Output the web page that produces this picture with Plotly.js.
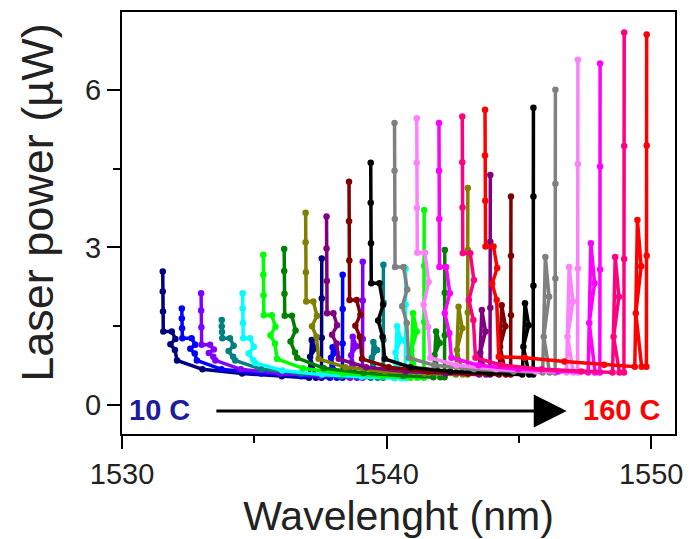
<!DOCTYPE html>
<html>
<head>
<meta charset="utf-8">
<script src="https://cdn.plot.ly/plotly-3.0.1.min.js"></script>
<style>html,body{margin:0;padding:0;background:#fff;}#chart{width:689px;height:539px;}</style>
</head>
<body>
<div id="chart"></div>
<script>
// Temperature labels for each measured spectrum (10 C ... 160 C)
const temps = ['10 C','20 C','30 C','40 C','50 C','60 C','70 C','80 C','90 C','100 C','110 C','120 C','130 C','140 C','150 C','160 C'];
const colors = ['#000080','#0000ff','#8000ff','#008080','#00ffff','#00ff00','#008000','#808000','#800080','#800000','#000000','#808080','#ff80ff','#ff00ff','#ff0080','#ff0000'];

// Wavelength (nm) and laser power (uW) for each temperature
const wl10 = [1531.54,1531.54,1531.55,1531.56,1531.88,1532.02,1531.83,1532.00,1532.08,1533.04,1534.54,1536.04,1537.07,1537.17,1537.31,1537.11,1537.33,1537.54,1537.55,1537.55,1537.55];
const pw10 = [2.54,2.16,1.78,1.40,1.40,1.26,1.16,1.05,0.85,0.68,0.60,0.55,0.52,1.24,1.08,0.92,0.52,0.52,1.28,2.03,2.79];
const wl20 = [1532.26,1532.26,1532.27,1532.28,1532.63,1532.77,1532.58,1532.75,1532.83,1533.76,1535.26,1536.76,1537.86,1537.96,1538.10,1537.90,1538.12,1538.33,1538.34,1538.34,1538.34];
const pw20 = [1.84,1.65,1.46,1.27,1.27,1.15,1.07,0.98,0.85,0.68,0.60,0.55,0.52,1.10,1.00,0.90,0.52,0.52,1.17,1.83,2.48];
const wl30 = [1532.99,1532.99,1533.00,1533.01,1533.33,1533.47,1533.28,1533.45,1533.53,1534.49,1535.99,1537.49,1538.62,1538.72,1538.86,1538.66,1538.88,1539.09,1539.10,1539.10,1539.10];
const pw30 = [2.13,1.80,1.48,1.15,1.15,1.06,0.99,0.92,0.85,0.68,0.60,0.55,0.52,1.30,1.12,0.95,0.52,0.52,1.26,1.99,2.73];
const wl40 = [1533.77,1533.77,1533.78,1533.79,1534.08,1534.22,1534.03,1534.20,1534.28,1535.27,1536.77,1538.27,1539.40,1539.50,1539.64,1539.44,1539.66,1539.87,1539.88,1539.88,1539.88];
const pw40 = [1.62,1.50,1.39,1.27,1.27,1.13,1.03,0.92,0.85,0.68,0.60,0.55,0.52,1.20,1.05,0.90,0.52,0.52,1.24,1.95,2.67];
const wl50 = [1534.56,1534.56,1534.57,1534.58,1534.84,1534.98,1534.79,1534.96,1535.04,1536.06,1537.56,1539.06,1540.30,1540.40,1540.54,1540.34,1540.56,1540.71,1540.72,1540.72,1540.72];
const pw50 = [2.13,1.84,1.56,1.27,1.27,1.11,0.98,0.86,0.80,0.66,0.58,0.54,0.51,1.50,1.25,1.00,0.51,0.51,1.21,1.91,2.60];
const wl60 = [1535.34,1535.34,1535.35,1535.36,1535.66,1535.80,1535.61,1535.78,1535.86,1536.84,1538.34,1539.84,1540.90,1541.00,1541.14,1540.94,1541.16,1541.41,1541.42,1541.42,1541.42];
const pw60 = [2.86,2.48,2.09,1.71,1.71,1.49,1.33,1.17,0.88,0.70,0.60,0.55,0.52,1.75,1.40,1.05,0.52,0.52,1.58,2.65,3.71];
const wl70 = [1536.13,1536.13,1536.14,1536.15,1536.42,1536.56,1536.37,1536.54,1536.62,1537.63,1539.13,1540.63,1541.77,1541.87,1542.01,1541.81,1542.03,1542.19,1542.20,1542.20,1542.20];
const pw70 = [2.97,2.55,2.12,1.70,1.70,1.42,1.21,1.00,0.90,0.70,0.61,0.56,0.53,1.40,1.18,0.95,0.53,0.53,1.33,2.14,2.95];
const wl80 = [1536.94,1536.94,1536.95,1536.96,1537.23,1537.37,1537.18,1537.35,1537.43,1538.44,1539.94,1541.44,1542.62,1542.72,1542.86,1542.66,1542.88,1543.06,1543.07,1543.07,1543.07];
const pw80 = [3.66,3.10,2.53,1.97,1.97,1.70,1.50,1.30,0.88,0.72,0.64,0.60,0.58,1.87,1.46,1.05,0.58,0.58,1.76,2.95,4.13];
const wl90 = [1537.73,1537.73,1537.74,1537.75,1537.99,1538.13,1537.94,1538.11,1538.19,1539.23,1540.73,1542.23,1543.50,1543.60,1543.74,1543.54,1543.76,1543.91,1543.92,1543.92,1543.92];
const pw90 = [3.59,2.98,2.36,1.75,1.75,1.52,1.34,1.17,0.88,0.72,0.64,0.60,0.58,1.81,1.40,0.99,0.58,0.58,1.85,3.11,4.38];
const wl100 = [1538.58,1538.58,1538.59,1538.60,1538.87,1539.01,1538.82,1538.99,1539.07,1540.08,1541.58,1543.08,1544.25,1544.35,1544.49,1544.29,1544.51,1544.69,1544.70,1544.70,1544.70];
const pw100 = [4.25,3.50,2.75,2.00,2.00,1.72,1.51,1.30,0.88,0.72,0.64,0.60,0.58,1.90,1.50,1.11,0.58,0.58,1.71,2.84,3.97];
const wl110 = [1539.40,1539.40,1539.41,1539.42,1539.73,1539.87,1539.68,1539.85,1539.93,1540.90,1542.40,1543.90,1545.13,1545.23,1545.37,1545.17,1545.39,1545.54,1545.55,1545.55,1545.55];
const pw110 = [4.61,3.85,3.08,2.32,2.32,1.91,1.61,1.30,0.88,0.72,0.64,0.60,0.58,1.94,1.52,1.11,0.58,0.58,2.27,3.97,5.66];
const wl120 = [1540.30,1540.30,1540.31,1540.32,1540.64,1540.78,1540.59,1540.76,1540.84,1541.80,1543.30,1544.80,1545.90,1546.00,1546.14,1545.94,1546.16,1546.37,1546.38,1546.38,1546.38];
const pw120 = [5.37,4.46,3.54,2.63,2.63,2.20,1.88,1.56,0.90,0.76,0.68,0.64,0.62,2.82,2.06,1.30,0.62,0.62,2.41,4.21,6.00];
const wl130 = [1541.14,1541.14,1541.15,1541.16,1541.45,1541.59,1541.40,1541.57,1541.65,1542.64,1544.14,1545.64,1546.80,1546.90,1547.04,1546.84,1547.06,1547.22,1547.23,1547.23,1547.23];
const pw130 = [5.46,4.61,3.75,2.90,2.90,2.34,1.91,1.49,0.90,0.76,0.68,0.64,0.62,2.63,1.97,1.30,0.62,0.62,2.60,4.59,6.57];
const wl140 = [1541.98,1541.98,1541.99,1542.00,1542.25,1542.39,1542.20,1542.37,1542.45,1543.48,1544.98,1546.48,1547.62,1547.72,1547.86,1547.66,1547.88,1548.06,1548.07,1548.07,1548.07];
const pw140 = [5.37,4.46,3.54,2.63,2.63,2.13,1.75,1.37,0.90,0.76,0.68,0.64,0.62,3.08,2.32,1.56,0.62,0.62,2.58,4.54,6.50];
const wl150 = [1542.86,1542.86,1542.87,1542.88,1543.16,1543.30,1543.11,1543.28,1543.36,1544.36,1545.86,1547.36,1548.54,1548.64,1548.78,1548.58,1548.80,1548.97,1548.98,1548.98,1548.98];
const pw150 = [5.49,4.62,3.76,2.89,2.89,2.38,2.00,1.62,0.90,0.76,0.68,0.64,0.62,2.82,2.06,1.30,0.62,0.62,2.78,4.93,7.09];
const wl160 = [1543.72,1543.72,1543.73,1543.74,1544.04,1544.18,1543.99,1544.16,1544.24,1545.22,1546.72,1548.22,1549.38,1549.48,1549.62,1549.42,1549.64,1549.82,1549.83,1549.83,1549.83];
const pw160 = [5.62,4.75,3.89,3.02,3.02,2.61,2.31,2.00,0.92,0.90,0.83,0.77,0.73,3.52,2.64,1.75,0.73,0.73,2.84,4.94,7.05];

const xTicks = [1530, 1540, 1550];
const yTicks = [0, 3, 6];

const wls = [wl10,wl20,wl30,wl40,wl50,wl60,wl70,wl80,wl90,wl100,wl110,wl120,wl130,wl140,wl150,wl160];
const pws = [pw10,pw20,pw30,pw40,pw50,pw60,pw70,pw80,pw90,pw100,pw110,pw120,pw130,pw140,pw150,pw160];

const traces = temps.map((t, i) => ({
  x: wls[i], y: pws[i], name: t, type: 'scatter', mode: 'lines+markers',
  line: {color: colors[i], width: 3.5},
  marker: {color: colors[i], size: 6.5, symbol: 'circle'},
  showlegend: false, hoverinfo: 'skip'
}));

const FONT = 'Liberation Sans, Arial, sans-serif';
const axisCommon = {
  showline: true, linecolor: '#000', linewidth: 2, mirror: true,
  ticks: 'outside', ticklen: 13, tickwidth: 2, tickcolor: '#000',
  showgrid: false, zeroline: false,
  tickfont: {family: FONT, size: 29, color: '#222'}
};

const layout = {
  width: 689, height: 539,
  margin: {l: 122, r: 14, t: 12, b: 105},
  paper_bgcolor: '#fff', plot_bgcolor: '#fff',
  xaxis: Object.assign({}, axisCommon, {
    range: [1530, 1550.9], tickvals: xTicks, ticktext: xTicks.map(String),
    minor: {tickvals: [1535, 1545], ticks: 'outside', ticklen: 7, tickwidth: 2, tickcolor: '#000'},
    title: {text: 'Wavelenght (nm)', font: {family: FONT, size: 41, color: '#222'}, standoff: 15}
  }),
  yaxis: Object.assign({}, axisCommon, {
    range: [-0.55, 7.48], tickvals: yTicks, ticktext: yTicks.map(String),
    minor: {tickvals: [1.5, 4.5], ticks: 'outside', ticklen: 7, tickwidth: 2, tickcolor: '#000'}
  }),
  annotations: [
    {x: -0.152, y: 0.55, xref: 'paper', yref: 'paper', xanchor: 'center', yanchor: 'middle',
     showarrow: false, textangle: -90, text: 'Laser power (\u00b5W)',
     font: {family: FONT, size: 45, color: '#222'}},
    {x: 1546.81, y: -0.11, ax: 1533.51, ay: -0.11, xref: 'x', yref: 'y', axref: 'x', ayref: 'y',
     showarrow: true, arrowhead: 2, arrowsize: 2.2, arrowwidth: 3, arrowcolor: '#000', text: ''},
    {x: 1530.2, y: -0.1, xref: 'x', yref: 'y', xanchor: 'left', yanchor: 'middle', showarrow: false,
     text: '<b>' + temps[0] + '</b>', font: {family: FONT, size: 29, color: '#1c1c9c'}},
    {x: 1548.86, y: -0.1, xref: 'x', yref: 'y', xanchor: 'center', yanchor: 'middle', showarrow: false,
     text: '<b>' + temps[temps.length - 1] + '</b>', font: {family: FONT, size: 29, color: '#ff0000'}}
  ]
};

Plotly.newPlot('chart', traces, layout, {displayModeBar: false, staticPlot: true});
</script>
</body>
</html>
